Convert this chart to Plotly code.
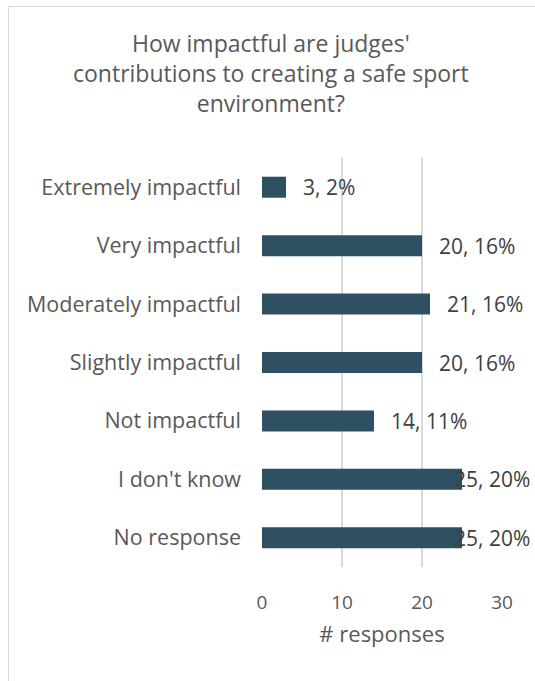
import plotly.graph_objects as go

# Survey responses
categories = [
    "Extremely impactful",
    "Very impactful",
    "Moderately impactful",
    "Slightly impactful",
    "Not impactful",
    "I don't know",
    "No response",
]
counts = [3, 20, 21, 20, 14, 25, 25]
percents = [2, 16, 16, 16, 11, 20, 20]
x_ticks = [0, 10, 20, 30]

W, H = 535, 681
L, R, T, B = 262, 33, 158, 114
pw, ph = W - L - R, H - T - B

bar_color = "#2F4F62"
text_color = "#595959"
label_color = "#404040"
font = "Open Sans"

fig = go.Figure(
    go.Bar(
        y=categories,
        x=counts,
        orientation="h",
        marker=dict(color=bar_color, line=dict(width=0)),
        width=0.36,
        hoverinfo="skip",
    )
)

# Data labels: "count, pct%" to the right of each bar, kept inside the chart area
label_cap = 21.9
for cat, c, p in zip(categories, counts, percents):
    fig.add_annotation(
        x=min(c, label_cap), y=cat, xref="x", yref="y",
        text=f"{c}, {p}%", showarrow=False,
        xanchor="left", xshift=15,
        font=dict(family=font, size=21, color=label_color),
    )

# Title
fig.add_annotation(
    x=(271 - L) / pw, y=(H - B - 73) / ph, xref="paper", yref="paper",
    text="How impactful are judges'<br>contributions to creating a safe sport<br>environment?",
    showarrow=False, xanchor="center", yanchor="middle", align="center",
    font=dict(family=font, size=23, color=text_color),
)

# Chart-area border
fig.add_shape(
    type="rect", xref="paper", yref="paper",
    x0=(8.5 - L) / pw, x1=(545 - L) / pw,
    y0=(H - B - 700) / ph, y1=(H - B - 6.5) / ph,
    line=dict(color="#D9D9D9", width=1), fillcolor="rgba(0,0,0,0)", layer="below",
)

fig.update_layout(
    width=W, height=H,
    margin=dict(l=L, r=R, t=T, b=B),
    paper_bgcolor="white", plot_bgcolor="white",
    showlegend=False,
    bargap=0.64,
    xaxis=dict(
        range=[0, 30], tickvals=x_ticks, showgrid=True,
        gridcolor="#D9D9D9", gridwidth=1.5, zeroline=False, showline=False,
        tickfont=dict(family=font, size=19, color=text_color),
        ticklabelstandoff=22,
        title=dict(text="# responses", font=dict(family=font, size=22, color=text_color), standoff=12),
        fixedrange=True,
    ),
    yaxis=dict(
        autorange="reversed", showgrid=False, zeroline=False, showline=False,
        tickfont=dict(family=font, size=21.5, color=text_color),
        ticklabelstandoff=20,
        fixedrange=True,
    ),
)

fig.write_html("out.html")
